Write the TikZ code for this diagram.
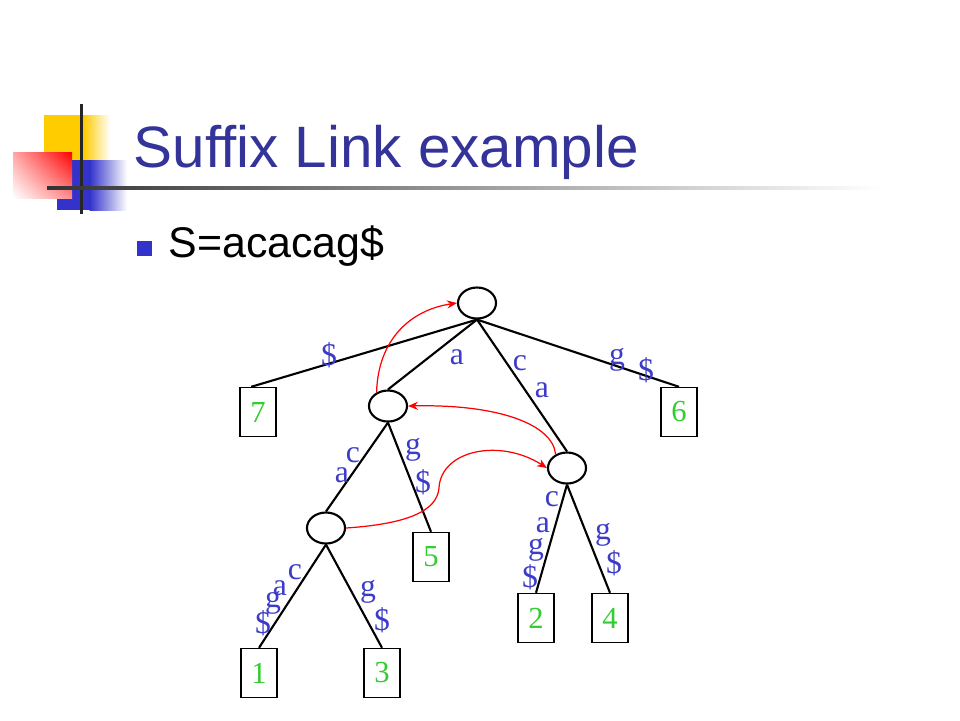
\documentclass[tikz,border=0pt]{standalone}
\usepackage{fontspec}
\setmainfont{Liberation Serif}
\newfontfamily\slidefont{Liberation Sans}
\usetikzlibrary{shapes.geometric,arrows.meta,shadings}
\definecolor{titleblue}{HTML}{333399}
\definecolor{markblue}{HTML}{3333CC}
\definecolor{edgeblue}{HTML}{3C3CC8}
\definecolor{leafgreen}{HTML}{33CC33}
\definecolor{logoyellow}{HTML}{FFCC00}
\tikzset{
  inner/.style={draw,ellipse,line width=0.6pt,minimum width=0.38cm,minimum height=0.31cm,inner sep=0pt},
  leaf/.style={draw,rectangle,line width=0.4pt,minimum width=0.36cm,minimum height=0.49cm,inner sep=0pt,text=leafgreen,font=\fontsize{8.7}{8.7}\selectfont},
  lbl/.style={text=edgeblue,inner sep=0pt,font=\fontsize{9}{9}\selectfont},
  tree/.style={line width=0.6pt},
  slink/.style={red,line width=0.35pt,-{Stealth[length=2.8pt,width=2.3pt]}}
}
\begin{document}
\begin{tikzpicture}[x=0.01cm,y=-0.01cm]
    \useasboundingbox (0,0) rectangle (960,720);
    %% logo
    \fill[logoyellow] (44,115) rectangle (84,180);
    \shade[left color=logoyellow,right color=white] (83.5,115) rectangle (110,180);
    \fill[markblue] (57,160) rectangle (90,210);
    \shade[left color=markblue,right color=white] (89.5,160) rectangle (127,210);
    \shade[upper left=red!35,upper right=red,lower left=white,lower right=red!45] (13,152) rectangle (72,198);
    \fill[black!85] (79.5,104) rectangle (82.5,214);
    \shade[left color=black!80,right color=white] (47,186.5) rectangle (880,189.5);
    %% title
    \node[anchor=base west,inner sep=0pt,text=titleblue,font=\slidefont\fontsize{16.6}{16.6}\selectfont] (title) at (133,167) {Suffix Link example};
    %% bullet
    \fill[markblue] (137,241) rectangle (152,256);
    \node[anchor=base west,inner sep=0pt,font=\slidefont\fontsize{12.2}{12.2}\selectfont] (string) at (168,257) {S=acacag\$};
    %% internal nodes
    \node[inner] (rt) at (477,303) {};
    \node[inner] (a) at (388,406) {};
    \node[inner] (ca) at (567,468) {};
    \node[inner] (aca) at (326,528) {};
    %% leaves
    \node[leaf] (l7) at (258,412) {7};
    \node[leaf] (l6) at (679,412) {6};
    \node[leaf] (l5) at (431,557) {5};
    \node[leaf] (l2) at (536,618) {2};
    \node[leaf] (l4) at (610,618) {4};
    \node[leaf] (l1) at (259,673) {1};
    \node[leaf] (l3) at (382,673) {3};
    %% edges
    \draw[tree] (rt.south) -- (l7.105);
    \draw[tree] (rt.south) -- (a.north);
    \draw[tree] (rt.south) -- (ca.north);
    \draw[tree] (rt.south) -- (l6.north);
    \draw[tree] (a.south) -- (aca.north);
    \draw[tree] (a.south) -- (l5.north);
    \draw[tree] (aca.south) -- (l1.north);
    \draw[tree] (aca.south) -- (l3.north);
    \draw[tree] (ca.south) -- (l2.north);
    \draw[tree] (ca.south) -- (l4.north);
    %% edge labels
    \node[lbl] at (329,355) {\$};
    \node[lbl] at (457,357) {a};
    \node[lbl] at (520,363) {c};
    \node[lbl] at (542,390) {a};
    \node[lbl] at (617,360) {g};
    \node[lbl] at (646,370) {\$};
    \node[lbl] at (353,455) {c};
    \node[lbl] at (342,475) {a};
    \node[lbl] at (413,450) {g};
    \node[lbl] at (423,482) {\$};
    \node[lbl] at (295,572) {c};
    \node[lbl] at (280,588) {a};
    \node[lbl] at (273,603) {g};
    \node[lbl] at (263,623) {\$};
    \node[lbl] at (368,592) {g};
    \node[lbl] at (382,620) {\$};
    \node[lbl] at (552,499) {c};
    \node[lbl] at (543,525) {a};
    \node[lbl] at (536,550) {g};
    \node[lbl] at (530,577) {\$};
    \node[lbl] at (603,535) {g};
    \node[lbl] at (614,563) {\$};
    %% suffix links
    \draw[slink] (a.130) .. controls (378,340) and (410,310) .. (rt.west);
    \draw[slink] (ca.130) .. controls (553,425) and (500,404) .. (a.east);
    \draw[slink] (aca.east) .. controls (405,524) and (437,512) .. (439,488) .. controls (441,450) and (500,438) .. (ca.west);
\end{tikzpicture}
\end{document}
